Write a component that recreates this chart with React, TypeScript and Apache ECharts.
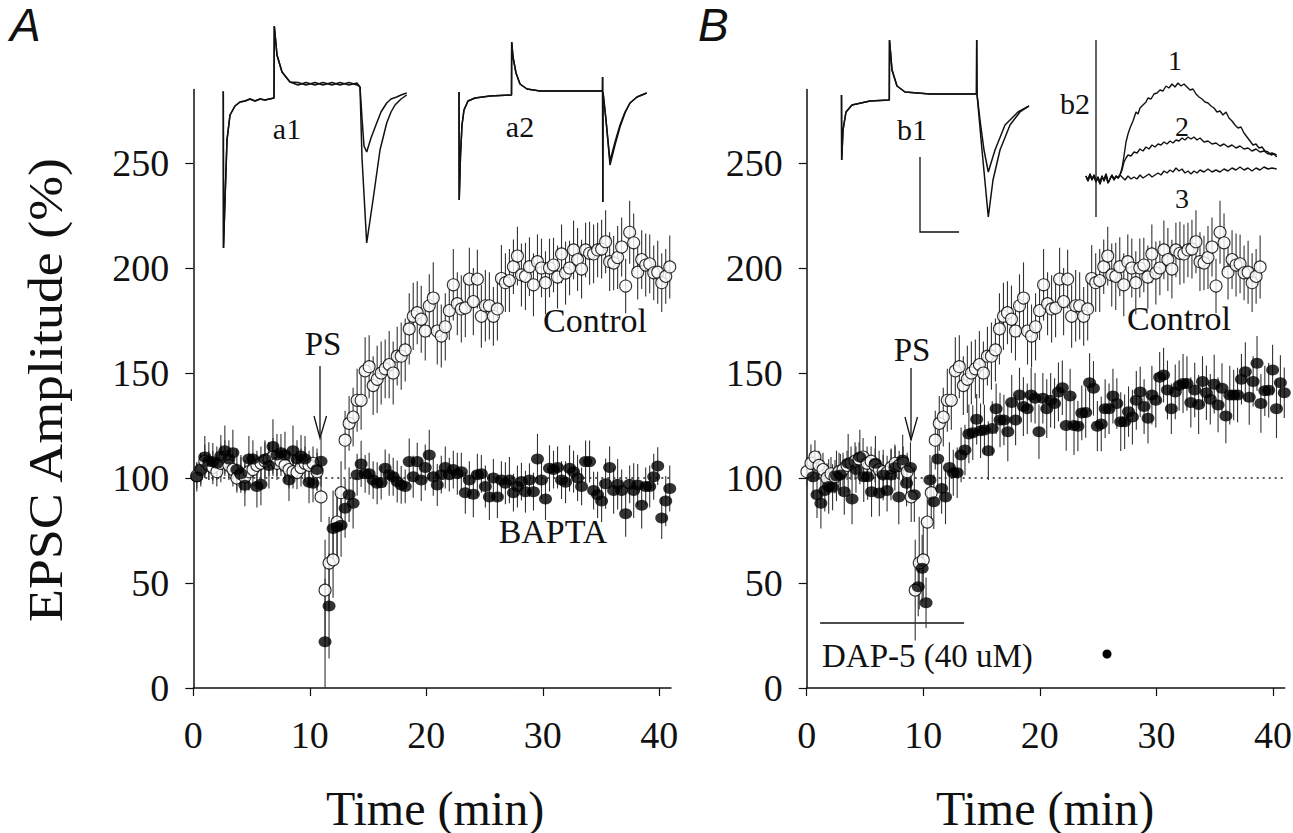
import React, { useEffect, useRef } from "react";
import * as echarts from "echarts";

// ---- sampling (minutes) ----
const T0_A = 0.3;
const DT_A = 0.344;
const T0_DAP = 0.55;
const DT_DAP = 0.334;
const B_CONTROL_SHIFT = -2.0;

const xTicks = [0, 10, 20, 30, 40];
const yTicks = [0, 50, 100, 150, 200, 250];

// ---- EPSC amplitude (%) ----
const controlAmp = [
  101, 104, 108, 106, 105, 103, 107, 110, 106, 104,
  100, 102, 100.6, 103, 104, 106, 107, 108, 109, 110,
  107, 108, 106, 104, 103, 102.6, 105, 107, 106, 107,
  103,
  91, 46.6, 59.5, 61, 79, 93, 118, 126, 129, 137,
  137, 151, 153, 144, 147, 150, 152, 154, 150, 158,
  158, 161, 171, 177, 178.7, 175.6, 170, 182, 185.7, 170,
  167.6, 172, 179.7, 192, 183, 180.5, 181, 194.7, 184, 194.7,
  177, 182, 182, 177, 180.5, 195, 193, 194, 200.6, 205.7,
  196.7, 196, 200.6, 192, 203, 200, 193, 200, 201.4, 195.7,
  206.7, 197.6, 200, 208.6, 204, 199.5, 208.6, 207, 206.7, 208.6,
  209, 212.5, 203, 202.4, 205, 210, 191.4, 217, 212, 198,
  204, 201.4, 202, 197.7, 198, 193, 196, 200.5,
];
const controlErr = [
  6, 7, 8, 7, 8, 7, 9, 8, 7, 8,
  7, 8, 8, 9, 8, 7, 8, 9, 8, 9,
  8, 7, 8, 9, 8, 8, 9, 8, 7, 8,
  9,
  12, 24, 22, 18, 16, 15, 14, 13, 14, 15,
  14, 16, 15, 14, 16, 15, 14, 16, 15, 14,
  16, 15, 17, 16, 15, 16, 14, 15, 17, 16,
  15, 16, 14, 17, 15, 16, 14, 15, 16, 14,
  15, 17, 16, 14, 15, 16, 14, 15, 13, 14,
  15, 16, 14, 15, 13, 14, 15, 14, 13, 15,
  14, 15, 13, 14, 15, 14, 13, 15, 14, 13,
  14, 15, 14, 13, 15, 14, 13, 15, 14, 13,
  14, 15, 14, 13, 15, 14, 13, 15,
];
const baptaAmp = [
  100.6, 104, 110, 108, 107.7, 107, 110.5, 113, 109, 112,
  104, 102, 96.6, 109, 109, 96, 97, 109, 106, 115,
  111, 112, 111, 99, 113, 109, 110.5, 109, 98, 97.5,
  104, 108,
  22, 39, 76, 76.7, 77.5, 85.6, 92, 88, 101.6, 106.7,
  102, 102, 99, 97.5, 97.8, 104.6, 101.6, 100.6, 98.3, 96.7,
  96, 107.8, 100.6, 107.8, 99, 105, 111, 100.6, 96.7, 101.6,
  105, 101.6, 104, 102, 103, 93, 99, 92.3, 101.6, 102,
  96, 91, 100, 91, 99, 97.5, 99, 93, 96, 98.3,
  93.5, 99, 93.5, 109, 99, 90, 104.6, 104, 105, 99,
  98, 104.6, 103, 100, 96, 107.8, 107.8, 94, 92, 89,
  97.3, 105, 94, 97, 94, 83, 97, 94, 96.7, 87,
  96, 96, 100.6, 105.7, 81, 89, 95,
];
const baptaErr = [
  7, 8, 10, 9, 9, 8, 10, 12, 9, 11,
  10, 9, 10, 11, 9, 10, 10, 9, 11, 13,
  10, 9, 11, 10, 12, 9, 10, 11, 10, 9,
  10, 12,
  30, 25, 18, 16, 15, 14, 13, 12,
  10, 11, 9, 10, 9, 10, 8, 9, 10, 9,
  10, 9, 8, 11, 10, 9, 10, 11, 12, 9,
  10, 9, 10, 8, 9, 10, 9, 10, 9, 11,
  10, 9, 10, 11, 9, 10, 9, 10, 11, 9,
  10, 9, 10, 8, 9, 12, 9, 10, 11, 9,
  10, 9, 10, 11, 10, 11, 9, 10, 10, 9,
  11, 10, 12, 10, 11, 12, 10, 11, 9, 13,
  10, 11, 9, 10, 11, 9, 10, 12, 11,
];
const dapAmp = [
  100.6, 92, 88, 94, 96, 95.6, 101, 101.4, 93.5, 107,
  90, 104, 110, 100.6, 100.6, 93.5, 107, 92.8, 101.4, 94,
  101.4, 105, 91, 108.6, 97.5, 105, 92,
  48.2, 57, 40.6,
  99, 88.7, 109, 95, 91, 105, 102.5, 102.5, 111, 113.3,
  121, 121.6, 128, 122.5, 122.9, 113, 123.6, 133, 127.6, 127.6,
  122, 136, 127.6, 139.5, 134, 133, 139.5, 138,
  122, 138, 133, 137, 135.5, 141, 143, 125, 139, 125,
  124.7, 131, 131.2, 145.4, 142.7, 124.7, 125.7, 133, 133, 139,
  135.5, 126.8, 126.8, 131.6, 129, 137, 141, 134, 128.4, 139.5,
  137, 148, 149, 141.9, 133, 141, 144, 145, 145, 136,
  141.9, 135, 146, 140.6, 137.5, 144.7, 134.8, 142.7, 129.5, 139.5,
  139.5, 139.5, 147, 150.6, 138.4, 146, 154.6, 135.5, 141.5, 141.8,
  151.4, 133, 145.4, 140.6,
];
const dapErr = [
  10, 11, 12, 10, 13, 11, 12, 10, 11, 14,
  12, 11, 13, 12, 11, 12, 13, 11, 12, 10,
  12, 11, 13, 12, 11, 12, 13,
  14, 16, 12,
  12, 13, 14, 12, 13, 12, 11, 12, 13, 12,
  14, 13, 12, 13, 12, 14, 13, 12, 13, 12,
  14, 13, 12, 13, 14, 12, 13, 12,
  13, 12, 14, 13, 12, 14, 13, 12, 13, 14,
  12, 13, 12, 14, 13, 12, 13, 14, 12, 13,
  12, 14, 13, 12, 13, 14, 12, 13, 12, 14,
  13, 12, 13, 14, 12, 13, 12, 14, 13, 12,
  13, 14, 12, 13, 12, 14, 13, 12, 13, 14,
  12, 13, 12, 14, 13, 12, 13, 14, 12, 13,
  12, 14, 13, 12,
];

const baselineLevel = [[0, 100], [41, 100]];
const dapBar = [[1.15, 31], [13.5, 31]];

// ---- inset traces: [time (ms), current (a.u.)] ----
const a1Head = [[4.5, 6], [5.3, 6], [5.5, -150], [7, -102], [9, -42], [12, -17], [17, -8], [22, -4], [27, -3], [32, -1], [37, -3], [42, -1], [47, -2], [56, 0], [56.3, 72], [59, 43], [64, 26], [72, 16]];
const a1TraceSmall = [...a1Head, [80, 13], [88, 15.5], [97, 13], [105, 15.5], [114, 13], [122, 15.5], [131, 13], [139, 15], [142, 11], [144, -20], [146, -48], [148.7, -54], [153, -40], [158.7, -25], [163, -14], [168.7, -5], [173, -1], [178.7, 1], [183, 3], [188.7, 5]];
const a1TraceLarge = [...a1Head, [80, 15.5], [88, 13], [97, 15.5], [105, 13], [114, 15.5], [122, 13], [131, 15.5], [139, 13], [142, 11], [144, -60], [148.7, -145], [155, -102], [162, -52], [168.7, -25], [173, -14], [177, -7], [183, -1], [188.7, 3]];
const a2Head = [[4, 3], [4.2, -105], [5.5, -60], [7, -30], [9, -15], [13, -6], [20, -3], [35, -1], [56.5, 0], [56.7, 53], [58, 38], [61, 22], [65, 11], [72, 6], [85, 4], [110, 4], [147.5, 4], [147.6, 18], [147.8, -107], [148, 3], [151, -25]];
const a2TraceA = [...a2Head, [155, -70], [160, -50], [165, -32], [170, -18], [175, -8], [182, -2], [191.7, 2]];
const a2TraceB = [...a2Head, [155, -66], [160, -47], [165, -30], [170, -17], [175, -8], [182, -2], [191.7, 2]];
const b1Head = [[3.5, 5], [3.7, -60], [5, -30], [8, -12], [14, -5], [32, -1], [51.3, 0], [51.5, 60], [54, 30], [59, 14], [67, 8], [92, 6], [138.5, 6], [138.7, 60], [139, 6]];
const b1TraceSmall = [...b1Head, [142, -20], [146, -50], [150.3, -72], [157, -50], [167, -25], [180, -12], [191, -6]];
const b1TraceLarge = [...b1Head, [144, -50], [150.3, -117], [155, -80], [162, -50], [172, -25], [182, -12], [191, -6]];
const b2Stim = [[16, 138], [16, -39]];
const b2Pre = [[6, 2], [8, -3], [10, 4], [12, -2], [14, 3], [16, -4], [18, 1], [20, -6], [22, 2], [24, -3], [26, 4], [28, -5], [30, -1], [32, 3], [34, -2], [36, 2], [38, 0], [40, 3]];
const b2Trace1 = [...b2Pre, [42, 10], [44, 22], [46, 36], [48, 44], [50, 50], [53, 57], [56, 66], [58, 64], [60, 70], [63, 73], [66, 76], [68, 80], [71, 79], [74, 84], [77, 85], [80, 88], [83, 87], [86, 92], [89, 90], [92, 94], [95, 91], [98, 95], [101, 92], [104, 94], [107, 91], [110, 88], [113, 89], [116, 84], [119, 81], [122, 79], [125, 76], [128, 75], [131, 72], [134, 70], [137, 66], [140, 67], [143, 63], [146, 66], [149, 60], [152, 57], [155, 53], [158, 50], [161, 51], [164, 45], [167, 41], [170, 37], [173, 33], [176, 34], [179, 30], [182, 31], [185, 27], [188, 26], [191, 23], [194, 24], [196.7, 21]];
const b2Trace2 = [...b2Pre, [42, 8], [44, 16], [46, 20], [48, 23], [51, 22], [54, 26], [57, 25], [60, 29], [63, 27], [66, 31], [69, 29], [72, 33], [75, 31], [78, 34], [81, 33], [84, 36], [87, 34], [90, 37], [93, 35], [96, 38], [99, 37], [102, 40], [105, 38], [108, 41], [111, 39], [114, 41], [117, 38], [120, 40], [124, 36], [128, 37], [132, 34], [136, 35], [140, 32], [144, 34], [148, 31], [152, 33], [156, 30], [160, 32], [164, 29], [168, 30], [172, 27], [176, 29], [180, 26], [184, 27], [188, 24], [192, 25], [196.7, 23]];
const b2Trace3 = [...b2Pre, [42, 1], [45, -2], [48, 2], [51, -1], [54, 1], [57, -1], [60, 3], [63, 0], [66, 2], [69, 4], [72, 1], [75, 3], [78, 5], [81, 3], [84, 7], [87, 5], [90, 8], [93, 6], [96, 10], [99, 7], [102, 9], [105, 5], [108, 7], [111, 4], [114, 7], [117, 5], [120, 8], [124, 6], [128, 9], [132, 6], [136, 8], [140, 6], [144, 9], [148, 7], [152, 10], [156, 8], [160, 11], [164, 8], [168, 10], [172, 7], [176, 10], [180, 8], [184, 11], [188, 9], [192, 10], [196.7, 9]];

const SERIF = "'Liberation Serif', 'Times New Roman', serif";

function points(vals: number[], t0: number, dt: number, shift = 0) {
  const out: number[][] = [];
  vals.forEach((v, i) => {
    const t = t0 + i * dt + shift;
    if (t >= 0 && t <= 41.2) out.push([t, v]);
  });
  return out;
}
function bars(vals: number[], errs: number[], t0: number, dt: number, shift = 0) {
  const out: number[][] = [];
  vals.forEach((v, i) => {
    const t = t0 + i * dt + shift;
    const e = errs[i] ?? 10;
    if (t >= 0 && t <= 41.2) out.push([t, Math.max(0, v - e), v + e]);
  });
  return out;
}

export default function App() {
  const ref = useRef<HTMLDivElement>(null);
  useEffect(() => {
    if (!ref.current) return;
    const chart = echarts.init(ref.current, undefined, { renderer: "svg" });

    const mainX = (gridIndex: number) => ({
      type: "value", gridIndex, min: 0, max: 41,
      axisLine: { show: true, onZero: false, lineStyle: { color: "#111", width: 1.5 } },
      axisTick: { show: true, length: 8, inside: false, customValues: xTicks, lineStyle: { color: "#111", width: 1.2 } },
      axisLabel: { show: true, customValues: xTicks, margin: 28, fontSize: 38, fontFamily: SERIF, color: "#111" },
      splitLine: { show: false },
    });
    const mainY = (gridIndex: number) => ({
      type: "value", gridIndex, min: 0, max: 285,
      axisLine: { show: true, lineStyle: { color: "#111", width: 1.5 } },
      axisTick: { show: true, length: 8, inside: false, customValues: yTicks, lineStyle: { color: "#111", width: 1.2 } },
      axisLabel: { show: true, customValues: yTicks, margin: 24, fontSize: 38, fontFamily: SERIF, color: "#111" },
      splitLine: { show: false },
    });
    const hiddenAxis = (gridIndex: number, min: number, max: number) => ({
      type: "value", gridIndex, min, max, show: false, splitLine: { show: false },
    });

    const errItem = (params: any, api: any) => {
      const x = api.value(0);
      const a = api.coord([x, api.value(1)]);
      const b = api.coord([x, api.value(2)]);
      return {
        type: "line",
        shape: { x1: a[0], y1: a[1], x2: b[0], y2: b[1] },
        style: { stroke: "#333", lineWidth: 1.1 },
      };
    };
    const errSeries = (data: number[][], xi: number) => ({
      type: "custom", xAxisIndex: xi, yAxisIndex: xi, renderItem: errItem,
      encode: { x: 0, y: [1, 2] }, data, z: 2, silent: true,
    });
    const openSeries = (data: number[][], xi: number) => ({
      type: "scatter", xAxisIndex: xi, yAxisIndex: xi, data, symbol: "circle", symbolSize: 12,
      itemStyle: { color: "#fff", borderColor: "#000", borderWidth: 1.1 }, z: 3,
    });
    const filledSeries = (data: number[][], xi: number) => ({
      type: "scatter", xAxisIndex: xi, yAxisIndex: xi, data, symbol: "circle", symbolSize: [13, 11],
      itemStyle: { color: "#000" }, z: 4,
    });
    const trace = (data: number[][], xi: number, w = 1.5) => ({
      type: "line", xAxisIndex: xi, yAxisIndex: xi, data, showSymbol: false, symbol: "none",
      lineStyle: { color: "#111", width: w }, z: 3, silent: true,
    });

    const txt = (text: string, x: number, y: number, fontSize: number, align = "center", extra: any = {}) => ({
      type: "text", x, y, silent: true,
      style: { text, fontSize, fontFamily: SERIF, fill: "#111", align, verticalAlign: "middle", ...extra },
    });

    const grids = [
      { left: 193.3, top: 89.5, width: 477.7, height: 598.5 },
      { left: 806.7, top: 89.5, width: 478, height: 598.5 },
      { left: 218, top: 20, width: 195, height: 235 },
      { left: 455, top: 35, width: 195, height: 170 },
      { left: 838, top: 30, width: 195, height: 205 },
      { left: 1080, top: 30, width: 205, height: 195 },
    ].map((g) => ({ ...g, containLabel: false, outerBoundsMode: "none" }));

    chart.setOption({
      animation: false,
      backgroundColor: "#fff",
      grid: grids,
      xAxis: [mainX(0), mainX(1), hiddenAxis(2, 0, 195), hiddenAxis(3, 0, 195), hiddenAxis(4, 0, 195), hiddenAxis(5, 0, 205)],
      yAxis: [mainY(0), mainY(1), hiddenAxis(2, -157, 78), hiddenAxis(3, -110, 60), hiddenAxis(4, -135, 70), hiddenAxis(5, -47, 148)],
      series: [
        // dotted 100% lines
        { type: "line", xAxisIndex: 0, yAxisIndex: 0, data: baselineLevel, symbol: "none", lineStyle: { color: "#222", width: 1.5, type: [2, 4] }, z: 1 },
        { type: "line", xAxisIndex: 1, yAxisIndex: 1, data: baselineLevel, symbol: "none", lineStyle: { color: "#222", width: 1.5, type: [2, 4] }, z: 1 },
        // DAP-5 application bar
        { type: "line", xAxisIndex: 1, yAxisIndex: 1, data: dapBar, symbol: "none", lineStyle: { color: "#111", width: 1.5 }, z: 1 },
        // Panel A
        errSeries(bars(controlAmp, controlErr, T0_A, DT_A), 0),
        errSeries(bars(baptaAmp, baptaErr, T0_A, DT_A), 0),
        openSeries(points(controlAmp, T0_A, DT_A), 0),
        filledSeries(points(baptaAmp, T0_A, DT_A), 0),
        // Panel B
        errSeries(bars(controlAmp, controlErr, T0_A, DT_A, B_CONTROL_SHIFT), 1),
        errSeries(bars(dapAmp, dapErr, T0_DAP, DT_DAP), 1),
        openSeries(points(controlAmp, T0_A, DT_A, B_CONTROL_SHIFT), 1),
        filledSeries(points(dapAmp, T0_DAP, DT_DAP), 1),
        // insets
        trace(a1TraceSmall, 2), trace(a1TraceLarge, 2),
        trace(a2TraceA, 3), trace(a2TraceB, 3),
        trace(b1TraceSmall, 4), trace(b1TraceLarge, 4),
        trace(b2Stim, 5, 1.3), trace(b2Trace1, 5, 1.4), trace(b2Trace2, 5, 1.4), trace(b2Trace3, 5, 1.4),
      ],
      graphic: [
        { type: "text", x: 10, y: 2, silent: true, style: { text: "A", fontSize: 46, fontStyle: "italic", fontFamily: "'Liberation Sans', Arial, sans-serif", fill: "#111" } },
        { type: "text", x: 698, y: 2, silent: true, style: { text: "B", fontSize: 46, fontStyle: "italic", fontFamily: "'Liberation Sans', Arial, sans-serif", fill: "#111" } },
        { type: "text", x: 45, y: 390, rotation: Math.PI / 2, scaleX: 1.1, silent: true, style: { text: "EPSC Amplitude (%)", fontSize: 49, fontFamily: SERIF, fill: "#111", align: "center", verticalAlign: "middle" } },
        txt("Time (min)", 435, 808, 48),
        txt("Time (min)", 1045, 808, 48),
        txt("PS", 323, 344, 33),
        { type: "line", silent: true, shape: { x1: 320, y1: 366, x2: 320, y2: 437 }, style: { stroke: "#111", lineWidth: 1.3 } },
        { type: "polyline", silent: true, shape: { points: [[314, 416], [320, 438], [326.5, 416]] }, style: { stroke: "#111", lineWidth: 1.3, fill: null } },
        txt("PS", 912, 350, 33),
        { type: "line", silent: true, shape: { x1: 911, y1: 368, x2: 911, y2: 440 }, style: { stroke: "#111", lineWidth: 1.3 } },
        { type: "polyline", silent: true, shape: { points: [[905, 417], [911, 440], [917.5, 417]] }, style: { stroke: "#111", lineWidth: 1.3, fill: null } },
        txt("Control", 595, 320, 34),
        txt("BAPTA", 553, 531, 34),
        txt("Control", 1179, 318, 34),
        txt("DAP-5 (40 uM)", 822, 656, 33, "left"),
        { type: "circle", silent: true, shape: { cx: 1107, cy: 654, r: 4.5 }, style: { fill: "#000" } },
        txt("a1", 287, 128, 30),
        txt("a2", 520, 126, 30),
        txt("b1", 912, 129, 30),
        txt("b2", 1075, 103, 30),
        txt("1", 1175, 60, 28),
        txt("2", 1182, 126, 28),
        txt("3", 1182, 198, 28),
        { type: "polyline", silent: true, shape: { points: [[920, 157], [920, 232], [959, 232]] }, style: { stroke: "#111", lineWidth: 1.3, fill: null } },
      ],
    });
    return () => chart.dispose();
  }, []);
  return <div ref={ref} style={{ position: "fixed", left: 0, top: 0, width: 1293, height: 833, background: "#fff" }} />;
}
